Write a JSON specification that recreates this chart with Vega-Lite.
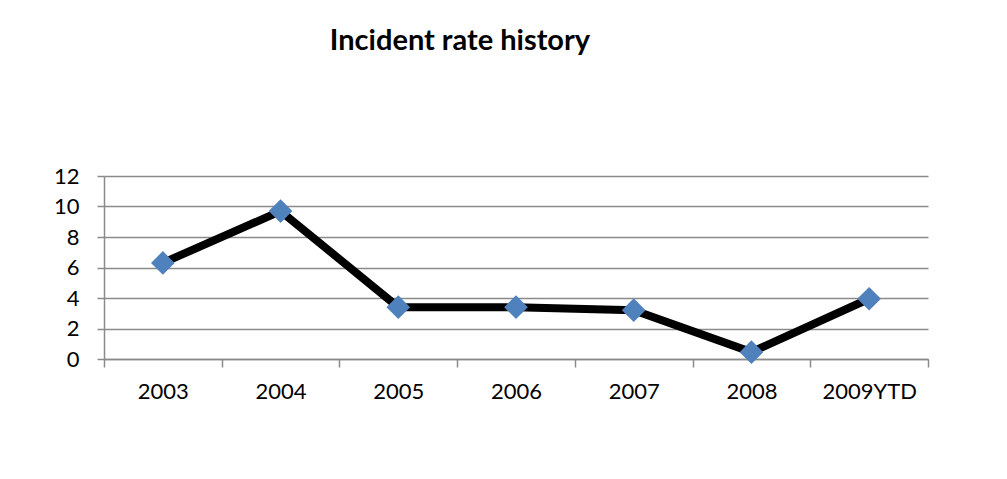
{
  "$schema": "https://vega.github.io/schema/vega-lite/v6.json",
  "width": 824,
  "height": 183,
  "autosize": {"type": "none"},
  "padding": {"left": 104, "top": 176, "right": 79, "bottom": 120},
  "background": "white",
  "title": {
    "text": "Incident rate history",
    "font": "Lato",
    "fontSize": 29,
    "fontWeight": "bold",
    "color": "black",
    "anchor": "middle",
    "frame": "group",
    "baseline": "alphabetic",
    "offset": 86,
    "dx": -56
  },
  "data": {
    "values": [
      {"year": "2003", "rate": 6.3},
      {"year": "2004", "rate": 9.7},
      {"year": "2005", "rate": 3.4},
      {"year": "2006", "rate": 3.4},
      {"year": "2007", "rate": 3.2},
      {"year": "2008", "rate": 0.45},
      {"year": "2009YTD", "rate": 3.95}
    ]
  },
  "encoding": {
    "x": {
      "field": "year",
      "type": "ordinal",
      "sort": null,
      "scale": {"type": "band", "paddingInner": 0, "paddingOuter": 0},
      "axis": {
        "title": null,
        "labelAngle": 0,
        "labelFont": "Lato",
        "labelFontSize": 22,
        "labelColor": "black",
        "labelPadding": 14,
        "tickBand": "extent",
        "tickSize": 8,
        "tickWidth": 1.5,
        "tickColor": "#8a8a8a",
        "domainColor": "#8a8a8a",
        "domainWidth": 1.5,
        "grid": false
      }
    },
    "y": {
      "field": "rate",
      "type": "quantitative",
      "scale": {"domain": [0, 12], "nice": false, "zero": true},
      "axis": {
        "title": null,
        "values": [0, 2, 4, 6, 8, 10, 12],
        "labelFont": "Lato",
        "labelFontSize": 22,
        "labelColor": "black",
        "labelPadding": 18,
        "tickSize": 7,
        "tickWidth": 1.5,
        "tickColor": "#8a8a8a",
        "domainColor": "#8a8a8a",
        "domainWidth": 1.5,
        "grid": true,
        "gridColor": "#8a8a8a",
        "gridWidth": 1.5,
        "gridOpacity": 1
      }
    }
  },
  "layer": [
    {
      "mark": {"type": "line", "color": "black", "strokeWidth": 8, "strokeJoin": "miter", "strokeCap": "butt"}
    },
    {
      "mark": {"type": "point", "shape": "diamond", "size": 560, "filled": true, "fill": "#4f81bd", "opacity": 1, "strokeWidth": 0}
    }
  ],
  "config": {
    "view": {"stroke": null}
  }
}
